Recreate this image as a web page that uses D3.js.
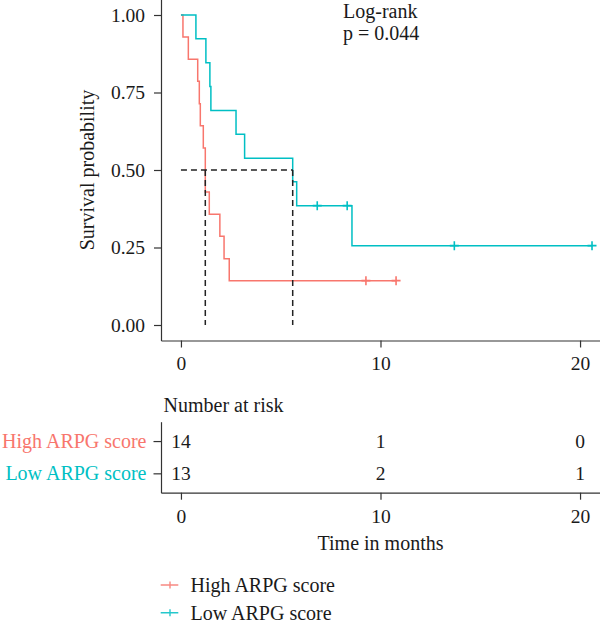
<!DOCTYPE html>
<html>
<head>
<meta charset="utf-8">
<script src="https://cdn.jsdelivr.net/npm/d3@7"></script>
<style>
  html, body { margin: 0; padding: 0; background: #fff; }
  svg { display: block; }
  text { font-family: "Liberation Serif", "DejaVu Serif", serif; }
</style>
</head>
<body>
<svg id="chart" width="600" height="630"></svg>
<script>
// ---- data ----
const groups = ["High ARPG score", "Low ARPG score"];
const colors = ["#F8766D", "#00BFC4"];

const highTime = [0, 0.10, 0.37, 0.84, 0.92, 0.97, 1.12, 1.22, 1.42, 1.95, 2.16, 2.42, 10.78];
const highSurv = [1, 0.929, 0.857, 0.786, 0.714, 0.643, 0.571, 0.429, 0.357, 0.286, 0.214, 0.143, 0.143];
const highCensor = [9.27, 10.78];

const lowTime = [0, 0.75, 1.25, 1.45, 1.50, 2.76, 3.19, 5.60, 5.80, 8.57, 20.6];
const lowSurv = [1, 0.923, 0.846, 0.769, 0.692, 0.615, 0.538, 0.462, 0.385, 0.256, 0.256];
const lowCensor = [6.83, 8.33, 13.7, 20.6];

const medians = [1.22, 5.60];

const xTicks = [0, 10, 20];
const yTicks = [0, 0.25, 0.5, 0.75, 1];
const riskTimes = [0, 10, 20];
const highRisk = [14, 1, 0];
const lowRisk = [13, 2, 1];

const pvalText = ["Log-rank", "p = 0.044"];

// ---- layout ----
const svg = d3.select("#chart");
const axisColor = "#333";
const textColor = "#1a1a1a";
const FS = 19.5;

const x = d3.scaleLinear().domain([-1, 21]).range([161, 600]);
const y = d3.scaleLinear().domain([-0.05, 1.05]).range([340.5, -0.5]);

function styleAxis(g) {
  g.selectAll("path.domain").attr("stroke", axisColor).attr("stroke-width", 1.2);
  g.selectAll(".tick line").attr("stroke", axisColor).attr("stroke-width", 1.2);
  g.selectAll(".tick text").attr("font-size", FS).style("fill", textColor)
    .attr("font-family", "Liberation Serif, DejaVu Serif, serif");
}

// Main axes
svg.append("g").attr("transform", "translate(0,340.5)")
  .call(d3.axisBottom(x).tickValues(xTicks).tickSize(7).tickPadding(9).tickSizeOuter(0))
  .call(styleAxis);
svg.append("g").attr("transform", "translate(161,0)")
  .call(d3.axisLeft(y).tickValues(yTicks).tickFormat(d3.format(".2f")).tickSize(7).tickPadding(9).tickSizeOuter(0))
  .call(styleAxis);

svg.append("text").attr("transform", "translate(94,170) rotate(-90)")
  .attr("text-anchor", "middle").attr("font-size", 20).style("fill", textColor).text("Survival probability");

// Curves
const series = [
  {time: highTime, surv: highSurv, censor: highCensor, color: colors[0]},
  {time: lowTime, surv: lowSurv, censor: lowCensor, color: colors[1]}
];
const line = d3.line().x(d => x(d[0])).y(d => y(d[1])).curve(d3.curveStepAfter);

series.forEach(s => {
  const pts = s.time.map((t, i) => [t, s.surv[i]]);
  svg.append("path").datum(pts).attr("d", line)
    .attr("fill", "none").attr("stroke", s.color).attr("stroke-width", 1.5);
});

// Median dashed lines
const dash = "6,4";
svg.append("line")
  .attr("x1", x(0)).attr("x2", x(d3.max(medians)))
  .attr("y1", y(0.5)).attr("y2", y(0.5))
  .attr("stroke", "#222").attr("stroke-width", 1.5).attr("stroke-dasharray", dash);
medians.forEach(m => {
  svg.append("line")
    .attr("x1", x(m)).attr("x2", x(m))
    .attr("y1", y(0.5)).attr("y2", y(0))
    .attr("stroke", "#222").attr("stroke-width", 1.5).attr("stroke-dasharray", dash);
});

// Censor marks
function survAt(s, t) {
  let v = 1;
  s.time.forEach((tt, i) => { if (tt <= t) v = s.surv[i]; });
  return v;
}
series.forEach(s => {
  s.censor.forEach(t => {
    const cx = x(t), cy = y(survAt(s, t));
    svg.append("path")
      .attr("d", `M${cx - 4.5},${cy}H${cx + 4.5}M${cx},${cy - 4.5}V${cy + 4.5}`)
      .attr("stroke", s.color).attr("stroke-width", 1.6);
  });
});

// Log-rank text
svg.append("text").attr("x", 343).attr("y", 18).attr("font-size", 20).style("fill", textColor).text(pvalText[0]);
svg.append("text").attr("x", 343).attr("y", 39.5).attr("font-size", 20).style("fill", textColor).text(pvalText[1]);

// ---- Risk table ----
svg.append("text").attr("x", 163.5).attr("y", 411.5).attr("font-size", 20).style("fill", textColor).text("Number at risk");

const yr = d3.scalePoint().domain(groups).range([421.7, 492.7]).padding(0.6);

svg.append("g").attr("transform", "translate(0,492.7)")
  .call(d3.axisBottom(x).tickValues(xTicks).tickSize(7).tickPadding(9).tickSizeOuter(0))
  .call(styleAxis);
const gyr = svg.append("g").attr("transform", "translate(161,0)")
  .call(d3.axisLeft(yr).tickSize(7.5).tickPadding(7).tickSizeOuter(0))
  .call(styleAxis);
gyr.selectAll(".tick text").style("fill", (d, i) => colors[i]).attr("font-size", 20);

const riskRows = [highRisk, lowRisk];
riskRows.forEach((row, gi) => {
  row.forEach((n, i) => {
    svg.append("text").attr("x", x(riskTimes[i])).attr("y", yr(groups[gi]))
      .attr("dy", "0.35em").attr("text-anchor", "middle").attr("font-size", FS)
      .style("fill", textColor).text(n);
  });
});

svg.append("text").attr("x", 380.5).attr("y", 550).attr("text-anchor", "middle")
  .attr("font-size", 20).style("fill", textColor).text("Time in months");

// ---- Legend ----
const legY = [585, 612.7];
groups.forEach((g, i) => {
  const cy = legY[i];
  svg.append("path")
    .attr("d", `M160.7,${cy}H178.3M170,${cy - 3.5}V${cy + 3.5}`)
    .attr("stroke", colors[i]).attr("stroke-width", 1.4).attr("opacity", 0.85);
  svg.append("text").attr("x", 190.5).attr("y", cy).attr("dy", "0.35em")
    .attr("font-size", 20).style("fill", textColor).text(g);
});
</script>
</body>
</html>
